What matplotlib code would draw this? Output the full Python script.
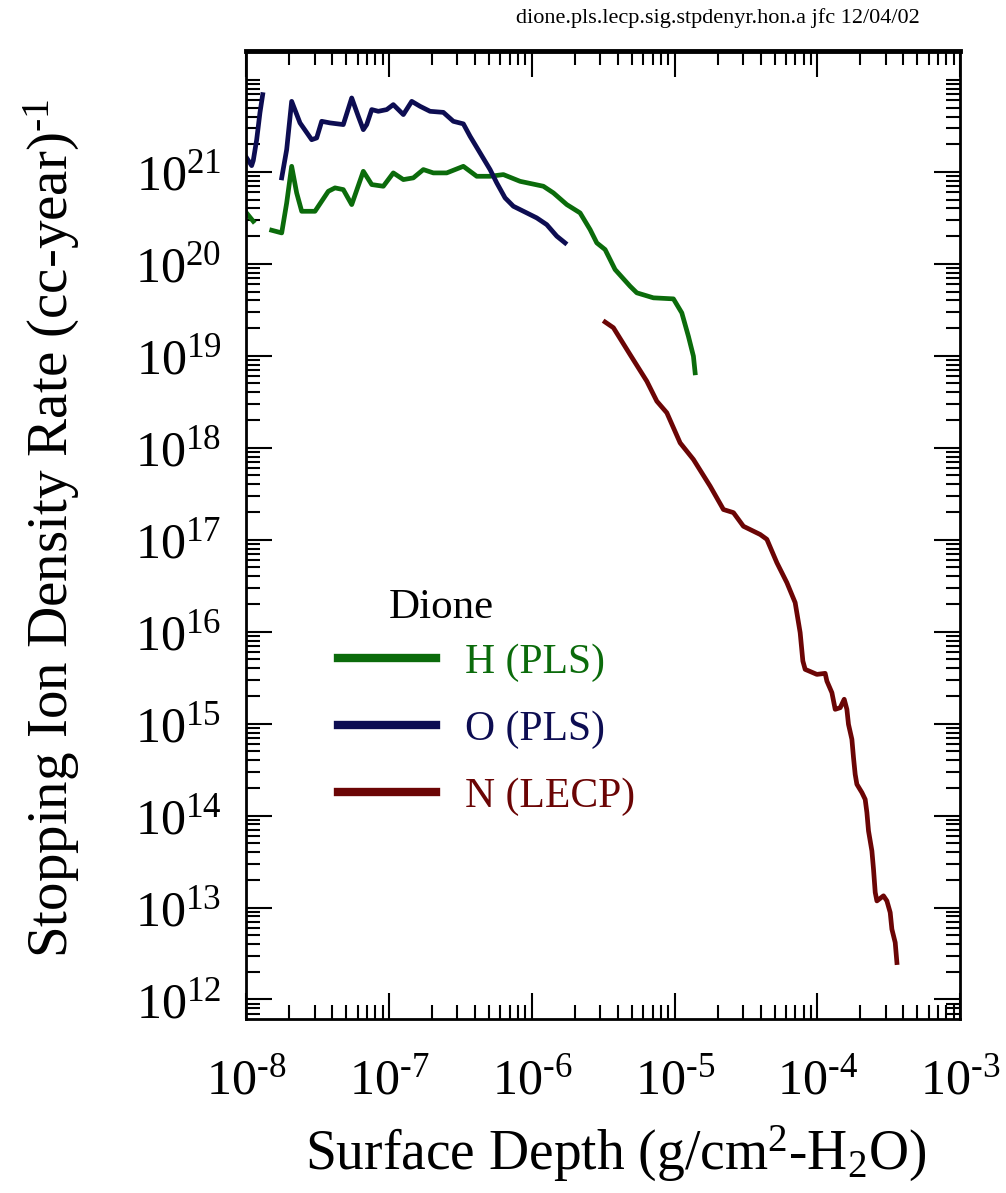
import matplotlib
matplotlib.use("Agg")
import matplotlib.pyplot as plt
from matplotlib.ticker import FixedLocator, NullFormatter, FuncFormatter
import numpy as np

plt.rcParams["font.family"] = ["Liberation Serif", "DejaVu Serif"]
plt.rcParams["mathtext.fontset"] = "custom"
plt.rcParams["mathtext.rm"] = "Liberation Serif"

# --- data (depth in g/cm^2 H2O, rate in (cc-year)^-1) ---
# H (PLS), two segments
h1_depth = [1.00e-8, 1.116e-8]
h1_rate = [3.58e20, 2.90e20]
h2_depth = [1.502e-8, 1.765e-8, 1.913e-8, 2.073e-8, 2.247e-8, 2.437e-8, 3.020e-8,
            3.743e-8, 4.171e-8, 4.767e-8, 5.461e-8, 6.584e-8, 7.542e-8, 9.092e-8,
            1.068e-7, 1.256e-7, 1.475e-7, 1.734e-7, 2.037e-7, 2.528e-7, 3.306e-7,
            4.104e-7, 5.087e-7, 6.304e-7, 8.253e-7, 1.202e-6, 1.413e-6, 1.754e-6,
            2.173e-6, 2.554e-6, 2.845e-6, 3.253e-6, 3.822e-6, 4.869e-6, 5.426e-6,
            7.091e-6, 9.793e-6, 1.121e-5, 1.247e-5, 1.352e-5, 1.390e-5]
h2_rate = [2.32e20, 2.17e20, 4.60e20, 1.15e21, 5.91e20, 3.73e20, 3.73e20,
           6.15e20, 6.70e20, 6.42e20, 4.41e20, 1.015e21, 7.28e20, 6.98e20,
           9.75e20, 8.25e20, 8.61e20, 1.06e21, 9.75e20, 9.75e20, 1.15e21,
           8.96e20, 8.96e20, 9.35e20, 7.90e20, 6.98e20, 5.91e20, 4.41e20,
           3.58e20, 2.36e20, 1.69e20, 1.43e20, 8.67e19, 5.71e19, 4.84e19,
           4.27e19, 4.16e19, 2.93e19, 1.63e19, 9.90e18, 6.53e18]

# O (PLS), two segments
o1_depth = [1.00e-8, 1.087e-8, 1.116e-8, 1.179e-8, 1.243e-8, 1.299e-8]
o1_rate = [1.43e21, 1.17e21, 1.33e21, 2.24e21, 4.41e21, 6.92e21]
o2_depth = [1.765e-8, 1.913e-8, 2.073e-8, 2.371e-8, 2.863e-8, 3.103e-8, 3.365e-8,
            3.847e-8, 4.767e-8, 5.461e-8, 6.074e-8, 6.584e-8, 6.955e-8, 7.542e-8,
            8.386e-8, 9.605e-8, 1.068e-7, 1.256e-7, 1.438e-7, 1.644e-7, 1.932e-7,
            2.394e-7, 2.813e-7, 3.306e-7, 3.684e-7, 4.328e-7, 5.087e-7, 5.666e-7,
            6.478e-7, 7.408e-7, 9.196e-7, 1.080e-6, 1.269e-6, 1.492e-6, 1.706e-6]
o2_rate = [8.61e20, 1.75e21, 5.85e21, 3.41e21, 2.24e21, 2.34e21, 3.55e21,
           3.41e21, 3.27e21, 6.37e21, 4.02e21, 2.88e21, 3.27e21, 4.76e21,
           4.56e21, 4.76e21, 5.39e21, 4.20e21, 5.85e21, 5.17e21, 4.56e21,
           4.44e21, 3.55e21, 3.33e21, 2.44e21, 1.61e21, 1.06e21, 7.59e20,
           5.22e20, 4.23e20, 3.58e20, 3.16e20, 2.67e20, 2.00e20, 1.69e20]

# N (LECP)
n_depth = [3.253e-6, 3.719e-6, 4.869e-6, 6.376e-6, 7.492e-6, 8.805e-6, 1.091e-5,
           1.352e-5, 1.771e-5, 2.194e-5, 2.578e-5, 3.029e-5, 3.967e-5, 4.420e-5,
           5.195e-5, 6.105e-5, 6.977e-5, 7.563e-5, 7.900e-5, 8.199e-5, 9.904e-5,
           1.132e-4, 1.164e-4, 1.262e-4, 1.331e-4, 1.443e-4, 1.539e-4, 1.607e-4,
           1.649e-4, 1.742e-4, 1.788e-4, 1.837e-4, 1.888e-4, 2.047e-4, 2.159e-4,
           2.219e-4, 2.278e-4, 2.406e-4, 2.469e-4, 2.538e-4, 2.608e-4, 2.900e-4,
           3.064e-4, 3.232e-4, 3.321e-4, 3.504e-4, 3.601e-4]
n_rate = [2.33e19, 2.02e19, 1.03e19, 5.29e18, 3.21e18, 2.40e18, 1.13e18,
          7.46e17, 3.82e17, 2.13e17, 1.97e17, 1.40e17, 1.14e17, 1.01e17,
          5.62e16, 3.41e16, 2.07e16, 9.75e15, 4.79e15, 3.89e15, 3.43e15,
          3.52e15, 2.90e15, 2.17e15, 1.43e15, 1.49e15, 1.84e15, 1.43e15,
          9.82e14, 6.75e14, 4.27e14, 2.81e14, 2.19e14, 1.78e14, 1.50e14,
          1.08e14, 6.80e13, 4.12e13, 2.61e13, 1.46e13, 1.18e13, 1.34e13,
          1.18e13, 8.82e12, 5.81e12, 4.16e12, 2.52e12]

x_major = [1e-8, 1e-7, 1e-6, 1e-5, 1e-4, 1e-3]
y_major = [10.0 ** k for k in range(12, 22)]

GREEN = "#0b6b0b"
NAVY = "#0d0d52"
DARKRED = "#6b0505"

fig = plt.figure(figsize=(10.06, 11.93), dpi=100)
ax = fig.add_axes([0.245, 0.1455, 0.7095, 0.812])

lw = 3.4
ax.plot(h1_depth, h1_rate, color=GREEN, lw=lw)
ax.plot(h2_depth, h2_rate, color=GREEN, lw=lw, label="H (PLS)")
ax.plot(o1_depth, o1_rate, color=NAVY, lw=lw)
ax.plot(o2_depth, o2_rate, color=NAVY, lw=lw, label="O (PLS)")
ax.plot(n_depth, n_rate, color=DARKRED, lw=lw, label="N (LECP)")

ax.set_xscale("log")
ax.set_yscale("log")
ax.set_xlim(1e-8, 1e-3)
ax.set_ylim(10 ** 11.783, 10 ** 22.318)

minor_x = [m * 10.0 ** k for k in range(-8, -3) for m in range(2, 10)]
minor_y = [m * 10.0 ** k for k in range(11, 22) for m in range(2, 10)] + [1e22]
ax.xaxis.set_major_locator(FixedLocator(x_major))
ax.yaxis.set_major_locator(FixedLocator(y_major))
ax.xaxis.set_minor_locator(FixedLocator(minor_x))
ax.yaxis.set_minor_locator(FixedLocator(minor_y))
ax.xaxis.set_minor_formatter(NullFormatter())
ax.yaxis.set_minor_formatter(NullFormatter())


def pow_label(v, pos):
    k = int(round(np.log10(v)))
    if k < 0:
        return r"$\mathregular{10^{\text{-}%d}}$" % (-k)
    return r"$\mathregular{10^{%d}}$" % k


ax.xaxis.set_major_formatter(FuncFormatter(pow_label))
ax.yaxis.set_major_formatter(FuncFormatter(pow_label))

ax.tick_params(which="both", direction="in", top=True, right=True, width=1.5,
               color="black")
ax.tick_params(which="major", length=19)
ax.tick_params(which="minor", length=10)
ax.tick_params(axis="x", which="major", labelsize=36, pad=28)
ax.tick_params(axis="y", which="major", labelsize=36, pad=18)
for s in ax.spines.values():
    s.set_linewidth(2)
ax.spines["top"].set_linewidth(3.5)

ax.set_xlabel(r"Surface Depth (g/cm$\mathregular{^2}$-H$\mathregular{_2}$O)",
              fontsize=40)
ax.set_ylabel(r"Stopping Ion Density Rate (cc-year)$\mathregular{^{\text{-}1}}$",
              fontsize=41)
ax.xaxis.set_label_coords(0.517, -0.108)
ax.yaxis.set_label_coords(-0.2305, 0.507)

leg = ax.legend(loc="upper left", bbox_to_anchor=(0.128, 0.388), frameon=False,
                fontsize=30, handlelength=2.35, handletextpad=0.7,
                labelspacing=0.68, borderpad=0, borderaxespad=0)
for line in leg.get_lines():
    line.set_linewidth(6)
for txt, c in zip(leg.get_texts(), [GREEN, NAVY, DARKRED]):
    txt.set_color(c)

ax.text(0.2726, 0.425, "Dione", transform=ax.transAxes, fontsize=31,
        ha="center", va="center")

fig.text(0.714, 0.985, "dione.pls.lecp.sig.stpdenyr.hon.a jfc 12/04/02",
         fontsize=16, ha="center", va="center")

fig.savefig("out.png", dpi=100)
